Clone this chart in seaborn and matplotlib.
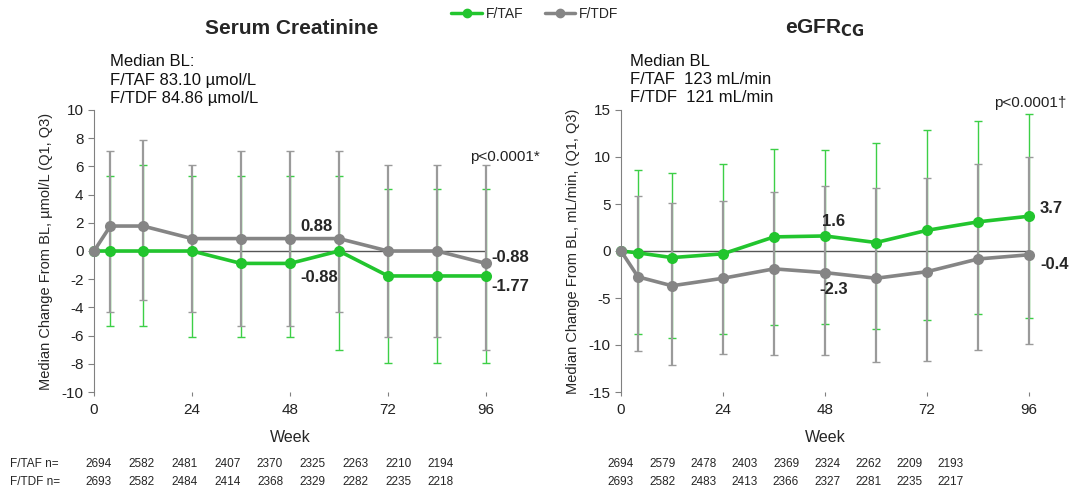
import numpy as np
import pandas as pd
import matplotlib.pyplot as plt
from matplotlib.lines import Line2D
import seaborn as sns

sns.set_style("white")
plt.rcParams['font.family'] = ['Liberation Sans', 'DejaVu Sans']
plt.rcParams['axes.unicode_minus'] = False

# dati
weeks = [0, 4, 12, 24, 36, 48, 60, 72, 84, 96]
arms = ['F/TAF', 'F/TDF']

# creatinina sierica, umol/L
scr_taf = [0, 0, 0, 0, -0.88, -0.88, 0, -1.77, -1.77, -1.77]
scr_taf_q1 = [0, -5.3, -5.3, -6.13, -6.13, -6.13, -7.0, -7.96, -7.96, -7.96]
scr_taf_q3 = [0, 5.3, 6.13, 5.3, 5.3, 5.3, 5.3, 4.4, 4.4, 4.4]
scr_tdf = [0, 1.77, 1.77, 0.88, 0.88, 0.88, 0.88, 0, 0, -0.88]
scr_tdf_q1 = [0, -4.36, -3.5, -4.36, -5.3, -5.3, -4.36, -6.13, -6.13, -7.0]
scr_tdf_q3 = [0, 7.08, 7.9, 6.13, 7.08, 7.08, 7.08, 6.13, 6.13, 6.13]

# eGFR CG, mL/min
egfr_taf = [0, -0.2, -0.7, -0.3, 1.5, 1.6, 0.9, 2.2, 3.1, 3.7]
egfr_taf_q1 = [0, -8.8, -9.25, -8.8, -7.9, -7.8, -8.25, -7.35, -6.75, -7.1]
egfr_taf_q3 = [0, 8.6, 8.35, 9.3, 10.9, 10.75, 11.45, 12.85, 13.8, 14.55]
egfr_tdf = [0, -2.75, -3.7, -2.9, -1.9, -2.3, -2.9, -2.2, -0.85, -0.4]
egfr_tdf_q1 = [0, -10.65, -12.1, -10.95, -11.1, -11.1, -11.8, -11.65, -10.5, -9.85]
egfr_tdf_q3 = [0, 5.8, 5.15, 5.3, 6.25, 6.95, 6.7, 7.8, 9.3, 10.0]

# numerosita'
scr_n_taf = [2694, 2582, 2481, 2407, 2370, 2325, 2263, 2210, 2194]
scr_n_tdf = [2693, 2582, 2484, 2414, 2368, 2329, 2282, 2235, 2218]
egfr_n_taf = [2694, 2579, 2478, 2403, 2369, 2324, 2262, 2209, 2193]
egfr_n_tdf = [2693, 2582, 2483, 2413, 2366, 2327, 2281, 2235, 2217]

colors = {'F/TAF': '#22c52e', 'F/TDF': '#858585'}
err_colors = {'F/TAF': '#3ccf46', 'F/TDF': '#9a9a9a'}

fig = plt.figure(figsize=(10.72, 4.9), dpi=100)
ax1 = fig.add_axes([94 / 1072, 98 / 490, 392 / 1072, 282 / 490])
ax2 = fig.add_axes([621 / 1072, 98 / 490, 408 / 1072, 282 / 490])


def draw_panel(ax, taf, taf_q1, taf_q3, tdf, tdf_q1, tdf_q3, ylim, yticks, ylabel):
    w = np.array(weeks[1:])
    # barre di errore (Q1, Q3), prima verde poi grigio sopra
    for vals, q1, q3, arm, lw in [(taf, taf_q1, taf_q3, 'F/TAF', 1.0),
                                  (tdf, tdf_q1, tdf_q3, 'F/TDF', 1.6)]:
        v = np.array(vals[1:])
        err = [v - np.array(q1[1:]), np.array(q3[1:]) - v]
        cont = ax.errorbar(w, v, yerr=err, fmt='none', ecolor=err_colors[arm],
                           elinewidth=lw, capsize=3, capthick=1.0, zorder=2)
        for ch in cont.get_children():
            ch.set_clip_on(False)
    ax.plot([0, 96], [0, 0], color='#555555', lw=1, zorder=1)
    df = pd.DataFrame({'week': weeks * 2,
                       'value': list(taf) + list(tdf),
                       'arm': ['F/TAF'] * len(weeks) + ['F/TDF'] * len(weeks)})
    sns.lineplot(data=df, x='week', y='value', hue='arm', hue_order=arms,
                 palette=colors, marker='o', markersize=8, markeredgewidth=0,
                 linewidth=2.6, legend=False, ax=ax, zorder=3, clip_on=False)
    ax.set_xlim(0, 96)
    ax.set_ylim(*ylim)
    ax.set_xticks([0, 24, 48, 72, 96])
    ax.set_yticks(yticks)
    ax.tick_params(axis='both', labelsize=11, colors='#222222')
    ax.tick_params(axis='y', length=4, color='#808080', direction='out', left=True)
    ax.tick_params(axis='x', length=3, color='#808080', direction='out', bottom=True, pad=5)
    for s in ['top', 'right', 'bottom']:
        ax.spines[s].set_visible(False)
    ax.spines['left'].set_color('#808080')
    ax.set_xlabel('Week', fontsize=11.5, labelpad=9)
    ax.set_ylabel(ylabel, fontsize=10.5, labelpad=6)


draw_panel(ax1, scr_taf, scr_taf_q1, scr_taf_q3, scr_tdf, scr_tdf_q1, scr_tdf_q3,
           (-10, 10), range(-10, 11, 2), 'Median Change From BL, µmol/L (Q1, Q3)')
draw_panel(ax2, egfr_taf, egfr_taf_q1, egfr_taf_q3, egfr_tdf, egfr_tdf_q1, egfr_tdf_q3,
           (-15, 15), range(-15, 16, 5), 'Median Change From BL, mL/min, (Q1, Q3)')

# etichette valori
bold = dict(fontsize=12, fontweight='bold', textcoords='offset pixels', va='center')
ax1.annotate('0.88', (48, scr_tdf[5]), xytext=(10, 12), ha='left', **bold)
ax1.annotate('-0.88', (48, scr_taf[5]), xytext=(10, -14), ha='left', **bold)
ax1.annotate('-0.88', (96, scr_tdf[9]), xytext=(5, 6), ha='left', **bold)
ax1.annotate('-1.77', (96, scr_taf[9]), xytext=(5, -11), ha='left', **bold)
ax2.annotate('1.6', (48, egfr_taf[5]), xytext=(9, 14), ha='center', **bold)
ax2.annotate('-2.3', (48, egfr_tdf[5]), xytext=(9, -17), ha='center', **bold)
ax2.annotate('3.7', (96, egfr_taf[9]), xytext=(11, 8), ha='left', **bold)
ax2.annotate('-0.4', (96, egfr_tdf[9]), xytext=(11, -10), ha='left', **bold)

# titoli
fig.text(292 / 1072, 1 - 28 / 490, 'Serum Creatinine', fontsize=15, fontweight='bold',
         ha='center', va='center')
fig.text(825 / 1072, 1 - 28 / 490, r'eGFR$_{\mathbf{CG}}$', fontsize=15, fontweight='bold',
         ha='center', va='center')

# legenda
handles = [Line2D([], [], color=colors[a], lw=2.5, marker='o', markersize=6) for a in arms]
fig.legend(handles, arms, loc='center', bbox_to_anchor=(535 / 1072, 1 - 14 / 490),
           ncol=2, frameon=False, fontsize=10, handlelength=2.2, handletextpad=0.3,
           columnspacing=1.5)

# baseline mediana
for x, lines in [(110, ['Median BL:', 'F/TAF 83.10 µmol/L', 'F/TDF 84.86 µmol/L']),
                 (630, ['Median BL', 'F/TAF  123 mL/min', 'F/TDF  121 mL/min'])]:
    for i, t in enumerate(lines):
        fig.text(x / 1072, 1 - (62 + 18 * i) / 490, t, fontsize=12, ha='left', va='center',
                 color='#111111')

fig.text(540 / 1072, 1 - 157 / 490, 'p<0.0001*', fontsize=11, ha='right', va='center',
         color='#222222')
fig.text(1066 / 1072, 1 - 103 / 490, 'p<0.0001\u2020', fontsize=11, ha='right', va='center',
         color='#222222')

# tabella n
fig.text(10 / 1072, 1 - 464 / 490, 'F/TAF n=', fontsize=8.5, ha='left', va='center')
fig.text(10 / 1072, 1 - 482 / 490, 'F/TDF n=', fontsize=8.5, ha='left', va='center')
for x0, step, ntaf, ntdf in [(99, 42.75, scr_n_taf, scr_n_tdf),
                             (621, 41.25, egfr_n_taf, egfr_n_tdf)]:
    for i in range(len(ntaf)):
        fig.text((x0 + step * i) / 1072, 1 - 464 / 490, str(ntaf[i]), fontsize=8.5,
                 ha='center', va='center')
        fig.text((x0 + step * i) / 1072, 1 - 482 / 490, str(ntdf[i]), fontsize=8.5,
                 ha='center', va='center')

fig.savefig('out.png', dpi=100)
